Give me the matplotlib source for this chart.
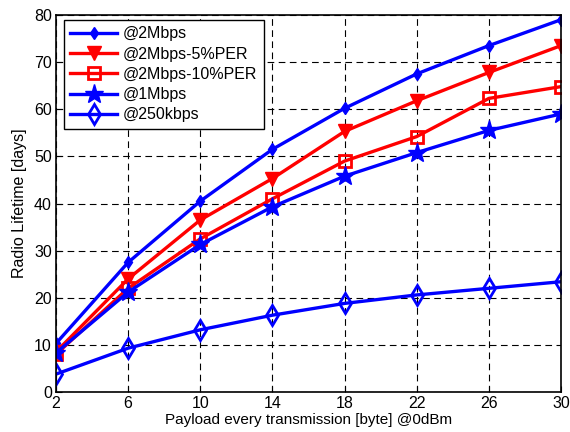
import numpy as np
import matplotlib
matplotlib.use('Agg')
import matplotlib.pyplot as plt

plt.rcParams['font.family'] = ['Liberation Sans', 'DejaVu Sans']

payload = [2, 6, 10, 14, 18, 22, 26, 30]
life_2m = [10.3, 27.5, 40.5, 51.5, 60.2, 67.5, 73.5, 79.0]
life_2m_5per = [8.5, 24.0, 36.5, 45.3, 55.3, 61.8, 67.8, 73.5]
life_2m_10per = [8.0, 22.0, 32.5, 41.0, 49.0, 54.2, 62.3, 64.8]
life_1m = [8.3, 21.2, 31.3, 39.3, 45.8, 50.8, 55.5, 59.0]
life_250k = [3.8, 9.3, 13.2, 16.3, 18.8, 20.6, 22.0, 23.4]

fig = plt.figure(figsize=(5.7, 4.32), dpi=100)
ax = fig.add_axes([56/570, 40/432, 505/570, 377/432])

lw = 2.4
ax.plot(payload, life_2m, color='blue', lw=lw, marker='d', ms=6, mfc='blue', mec='blue', label='@2Mbps')
ax.plot(payload, life_2m_5per, color='red', lw=lw, marker='v', ms=10, mfc='red', mec='red', label='@2Mbps-5%PER')
ax.plot(payload, life_2m_10per, color='red', lw=lw, marker='s', ms=8, mfc='none', mec='red', mew=2, label='@2Mbps-10%PER')
ax.plot(payload, life_1m, color='blue', lw=lw, marker='*', ms=14, mfc='blue', mec='blue', label='@1Mbps')
ax.plot(payload, life_250k, color='blue', lw=lw, marker='d', ms=10, mfc='none', mec='blue', mew=2, label='@250kbps')

ax.set_xlim(2, 30)
ax.set_ylim(0, 80)
ax.set_xticks(payload)
ax.set_yticks(np.arange(0, 81, 10))
ax.grid(True, color='black', linestyle=(0, (6, 4)), lw=0.8)
ax.tick_params(labelsize=11.5, direction='in', length=4, pad=3)
for s in ax.spines.values():
    s.set_linewidth(1.2)

ax.set_xlabel('Payload every transmission [byte] @0dBm', fontsize=11, labelpad=1)
ax.set_ylabel('Radio Lifetime [days]', fontsize=11.5, labelpad=5)

leg = ax.legend(loc='upper left', fontsize=11.5, handlelength=2.9, handletextpad=0.4,
                fancybox=False, framealpha=1, edgecolor='black', borderpad=0.4,
                labelspacing=0.33, borderaxespad=0, bbox_to_anchor=(0.016, 0.987))
leg.get_frame().set_linewidth(1.0)

fig.savefig('out.png', dpi=100)
